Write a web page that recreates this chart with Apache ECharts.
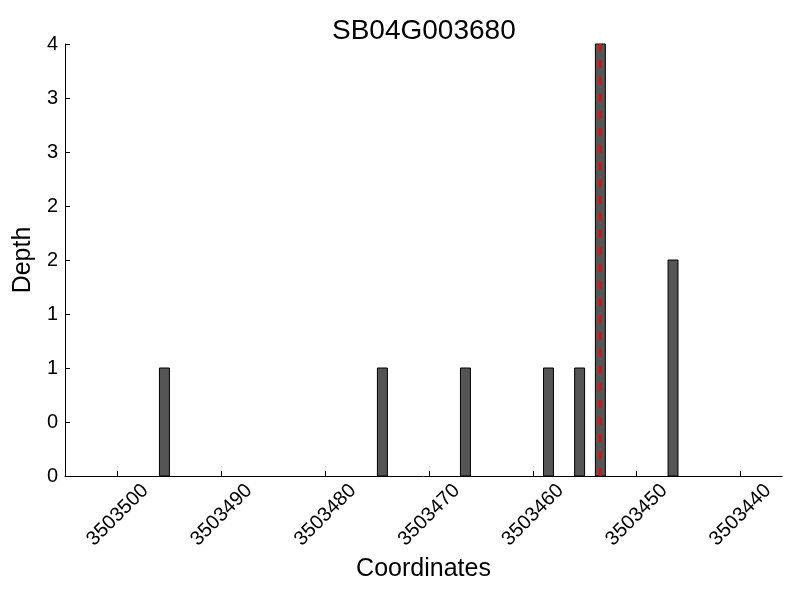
<!DOCTYPE html>
<html>
<head>
<meta charset="utf-8">
<script src="https://cdn.jsdelivr.net/npm/echarts@6/dist/echarts.min.js"></script>
<style>html,body{margin:0;padding:0;background:#fff}#c{width:800px;height:600px}</style>
</head>
<body>
<div id="c"></div>
<script>
const positions = [3503495.5, 3503474.5, 3503466.5, 3503458.5, 3503455.5, 3503453.5, 3503446.5];
const depths = [1, 1, 1, 1, 1, 4, 2];
const xTicks = [3503500, 3503490, 3503480, 3503470, 3503460, 3503450, 3503440];
const redLine = [3503453.5];
const title = 'SB04G003680';

const FONT = 'Liberation Sans';
const chart = echarts.init(document.getElementById('c'));
const barData = positions.map((p, i) => [p, depths[i]]);

chart.setOption({
  animation: false,
  backgroundColor: '#fff',
  title: {
    text: title, left: 332, top: 17, padding: 0,
    textStyle: { fontFamily: FONT, fontSize: 28, fontWeight: 'normal', color: '#000' }
  },
  grid: { left: 65, right: 18, top: 44, bottom: 124, containLabel: false, outerBoundsMode: 'none' },
  xAxis: {
    type: 'value', inverse: true, min: 3503436, max: 3503505.08,
    name: 'Coordinates', nameLocation: 'middle', nameGap: 78,
    nameTextStyle: { fontFamily: FONT, fontSize: 25, color: '#000' },
    axisLine: { show: true, onZero: false, lineStyle: { color: '#000', width: 1 } },
    axisTick: { show: true, inside: true, length: 5, customValues: xTicks, lineStyle: { color: '#000' } },
    axisLabel: {
      customValues: xTicks, rotate: 45, margin: 39, align: 'center', verticalAlign: 'middle',
      fontFamily: FONT, fontSize: 20, color: '#000',
      formatter: v => String(v)
    },
    splitLine: { show: false }
  },
  yAxis: {
    type: 'value', min: 0, max: 4, interval: 0.5,
    name: 'Depth', nameLocation: 'middle', nameGap: 28, nameRotate: 90,
    nameTextStyle: { fontFamily: FONT, fontSize: 25, color: '#000' },
    axisLine: { show: true, lineStyle: { color: '#000', width: 1 } },
    axisTick: { show: true, inside: true, length: 5, lineStyle: { color: '#000' } },
    axisLabel: {
      margin: 7, fontFamily: FONT, fontSize: 20, color: '#000',
      formatter: v => String(Math.floor(v))
    },
    splitLine: { show: false }
  },
  series: [
    {
      type: 'custom',
      data: barData,
      renderItem: function (params, api) {
        const x = api.value(0), y = api.value(1);
        const p0 = api.coord([x + 0.48, 0]);
        const p1 = api.coord([x - 0.48, y]);
        return {
          type: 'rect',
          shape: { x: p0[0], y: p1[1], width: p1[0] - p0[0], height: p0[1] - p1[1] },
          style: { fill: '#555555', stroke: '#000', lineWidth: 1 }
        };
      },
      z: 2
    },
    {
      type: 'line',
      data: [[redLine[0], 0], [redLine[0], 4]],
      showSymbol: false, symbol: 'none',
      lineStyle: { color: '#ff0000', width: 2.5, type: [8, 9] },
      z: 3
    }
  ]
});
</script>
</body>
</html>
